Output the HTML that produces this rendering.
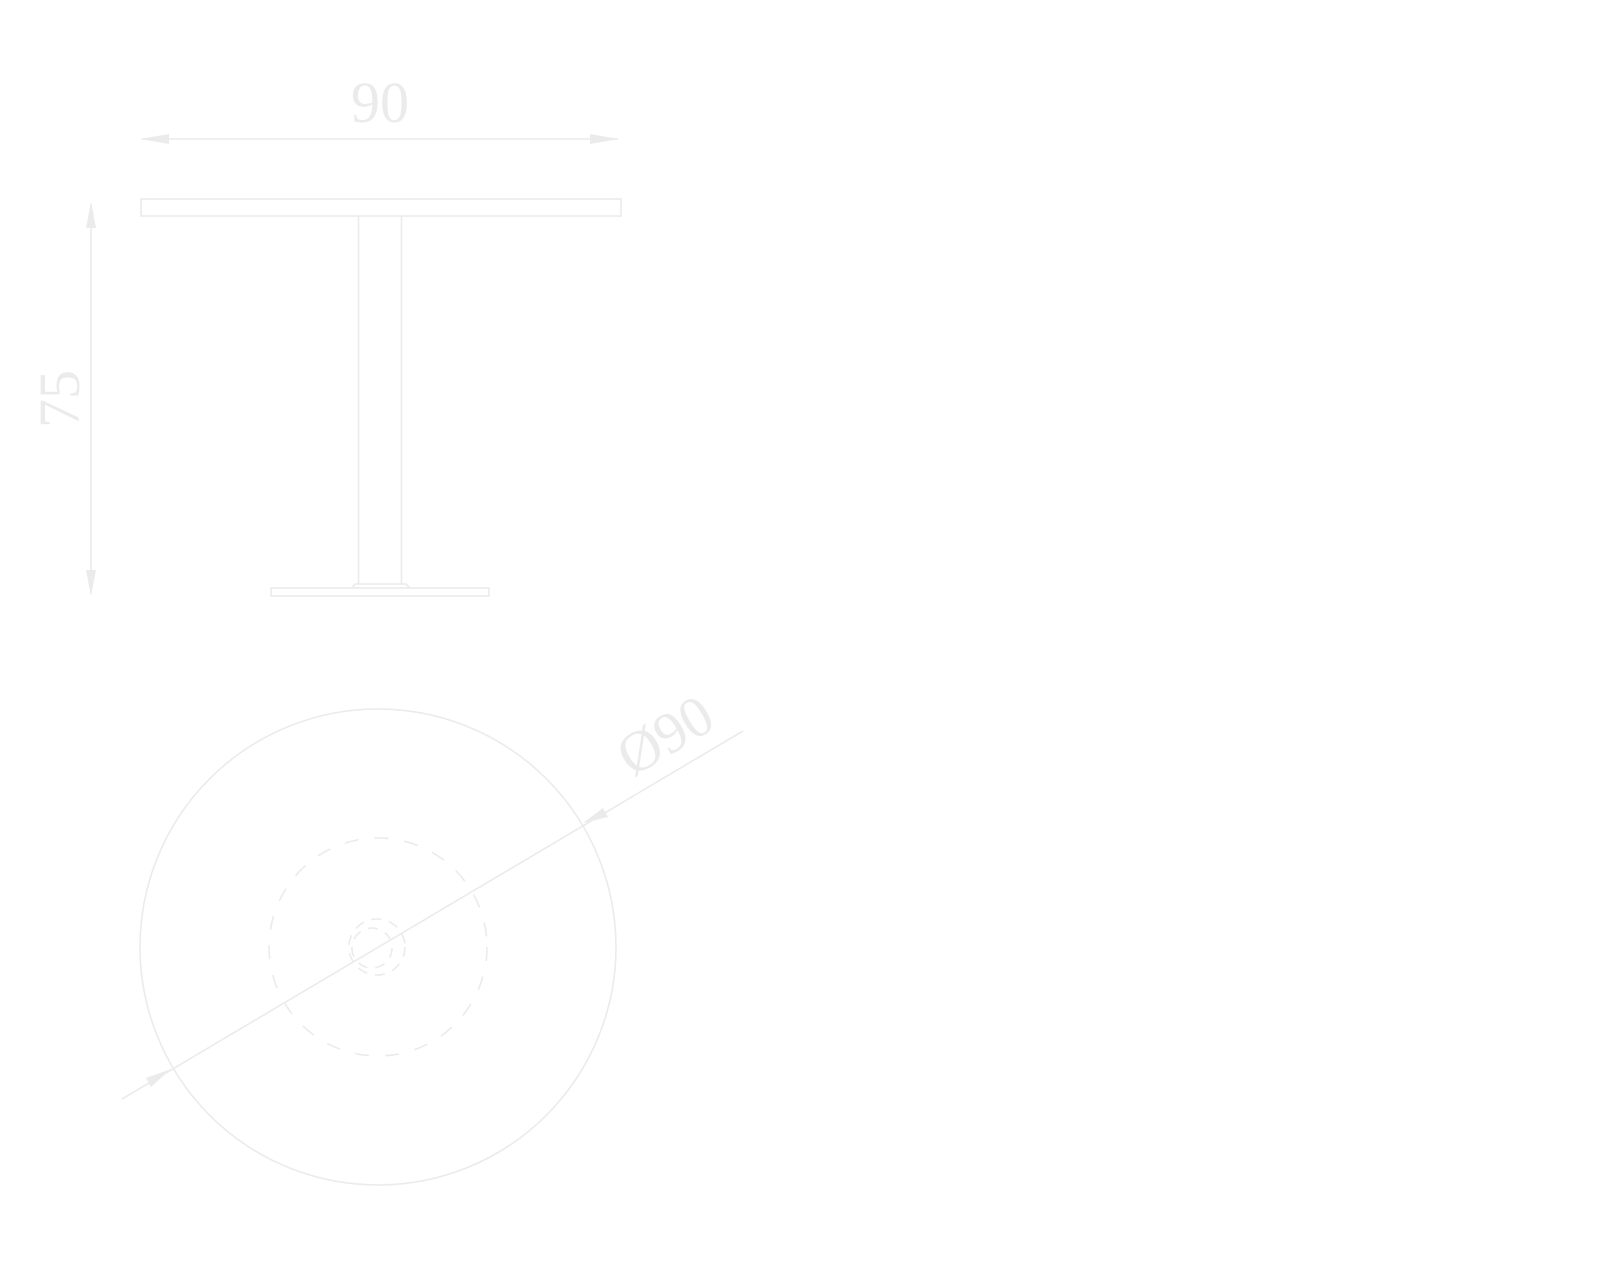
<!DOCTYPE html>
<html><head><meta charset="utf-8"><style>html,body{margin:0;padding:0;background:#fff}svg{display:block}</style></head>
<body>
<svg width="1600" height="1280" viewBox="0 0 1600 1280" xmlns="http://www.w3.org/2000/svg">
<g stroke="#ebebeb" stroke-width="1.6" fill="none">
  <rect x="141" y="199" width="480" height="17"/>
  <line x1="358.5" y1="216" x2="358.5" y2="584"/>
  <line x1="401.5" y1="216" x2="401.5" y2="584"/>
  <path d="M352 588 L355 584 L406 584 L410 588"/>
  <rect x="271" y="588" width="218" height="8"/>
  <line x1="142" y1="139" x2="618" y2="139"/>
  <line x1="91" y1="204" x2="91" y2="594"/>
  <circle cx="378" cy="947" r="238"/>
  <circle cx="378" cy="947" r="109" stroke-dasharray="14,16"/>
  <circle cx="377" cy="947" r="28" stroke-dasharray="10,8"/>
  <circle cx="372" cy="948" r="20" stroke-dasharray="10,8"/>
  <line x1="122" y1="1099" x2="743" y2="731"/>
</g>
<g fill="#ebebeb">
  <polygon points="140,139 169,134 169,144"/>
  <polygon points="619,139 590,134 590,144"/>
  <polygon points="91,202 86,228 96,228"/>
  <polygon points="91,596 86,570 96,570"/>
  <polygon points="171,1069 146,1078 151,1087"/>
  <polygon points="583,823 603,808 608,817"/>
</g>
<g fill="#ebebeb" font-family="Liberation Serif, serif" font-size="58">
  <text x="380" y="122" text-anchor="middle">90</text>
  <text x="0" y="0" text-anchor="middle" transform="translate(79,399) rotate(-90)">75</text>
  <text x="0" y="0" text-anchor="middle" transform="translate(675,752) rotate(-30.7)">Ø90</text>
</g>
</svg>
</body></html>
